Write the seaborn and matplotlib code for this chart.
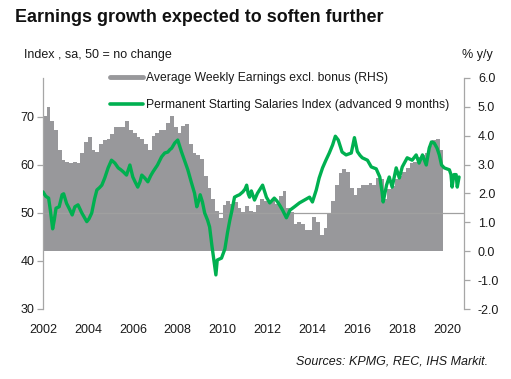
import matplotlib
matplotlib.use("Agg")
import matplotlib.pyplot as plt
import seaborn as sns
import numpy as np
import pandas as pd
from matplotlib.lines import Line2D
from matplotlib.ticker import FormatStrFormatter

sns.set_theme(style="white")
plt.rcParams['font.family'] = ['Liberation Sans', 'DejaVu Sans']
plt.rcParams['axes.unicode_minus'] = False

# ---- Data ----
# Average Weekly Earnings excl. bonus (RHS, % y/y), bi-monthly from Jan 2002
awe_start = 2002.0
awe_step = 1 / 6
awe_values = [
    4.7, 5.0, 4.5, 4.2, 3.5, 3.15,
    3.1, 3.05, 3.1, 3.05, 3.4, 3.8,
    3.95, 3.5, 3.45, 3.7, 3.85, 3.9,
    4.05, 4.3, 4.3, 4.3, 4.5, 4.2,
    4.1, 3.95, 3.9, 3.7, 3.5, 4.0,
    4.1, 4.2, 4.2, 4.45, 4.7, 4.3,
    4.1, 4.35, 4.4, 3.7, 3.4, 3.35,
    3.2, 2.6, 2.2, 1.8, 1.4, 1.15,
    1.6, 1.75, 1.65, 1.7, 1.5, 1.35,
    1.55, 1.4, 1.35, 1.6, 1.8, 1.75,
    1.7, 1.8, 1.65, 1.9, 2.1, 1.5,
    1.35, 0.95, 1.0, 0.95, 0.75, 0.75,
    1.2, 1.0, 0.55, 0.8, 1.3, 1.75,
    2.3, 2.7, 2.85, 2.75, 2.2, 1.95,
    2.2, 2.3, 2.3, 2.35, 2.3, 2.55,
    2.5, 1.8, 2.15, 2.25, 2.5, 2.6,
    2.75, 2.9, 3.05, 3.1, 3.25, 3.35,
    3.4, 3.65, 3.85, 3.9, 3.5,
]

# Permanent Starting Salaries Index (advanced 9 months), LHS
rec_years = [
    2002.00, 2002.12, 2002.25, 2002.33, 2002.43, 2002.50, 2002.58, 2002.72, 2002.85, 2002.92,
    2003.05, 2003.18, 2003.30, 2003.42, 2003.56, 2003.73, 2003.85, 2003.95,
    2004.05, 2004.17, 2004.30, 2004.40, 2004.52, 2004.62, 2004.75, 2004.90,
    2005.05, 2005.20, 2005.35, 2005.47, 2005.57, 2005.72, 2005.87,
    2006.00, 2006.10, 2006.22, 2006.32, 2006.40, 2006.53, 2006.67, 2006.80, 2006.90,
    2007.00, 2007.10, 2007.28, 2007.42, 2007.56, 2007.65, 2007.73, 2007.87,
    2008.00, 2008.08, 2008.17, 2008.30, 2008.45, 2008.60, 2008.75, 2008.85, 2008.93,
    2009.00, 2009.10, 2009.20, 2009.33, 2009.42, 2009.52, 2009.60, 2009.70, 2009.76, 2009.85, 2009.95,
    2010.10, 2010.22, 2010.32, 2010.40, 2010.53, 2010.65, 2010.75, 2010.90,
    2011.00, 2011.07, 2011.14, 2011.20, 2011.28, 2011.42, 2011.55, 2011.70, 2011.78, 2011.95,
    2012.10, 2012.30, 2012.42, 2012.53, 2012.67, 2012.84,
    2013.00, 2013.20, 2013.42, 2013.65, 2013.87,
    2014.00, 2014.17, 2014.30, 2014.45, 2014.60, 2014.75, 2014.90,
    2015.02, 2015.15, 2015.32, 2015.50, 2015.73, 2015.87,
    2016.00, 2016.12, 2016.22, 2016.45, 2016.62, 2016.84,
    2017.00, 2017.10, 2017.15, 2017.30, 2017.42, 2017.55, 2017.73, 2017.87,
    2018.00, 2018.22, 2018.44, 2018.62, 2018.75, 2018.90,
    2019.07, 2019.20, 2019.30, 2019.42, 2019.55, 2019.65, 2019.75, 2019.87,
    2020.10, 2020.17, 2020.22, 2020.30, 2020.40, 2020.45, 2020.53,
]
rec_values = [
    54.4, 53.5, 53.1, 50.5, 46.7, 48.5, 51.0, 51.3, 53.8, 54.0,
    52.0, 50.8, 49.6, 51.3, 51.7, 50.0, 49.0, 48.2,
    48.8, 50.0, 53.0, 54.8, 55.3, 55.8, 57.3, 59.4,
    61.0, 60.4, 59.4, 59.0, 58.6, 57.9, 60.0,
    57.5, 56.5, 55.4, 56.5, 57.9, 57.3, 56.5, 57.8, 58.6,
    59.3, 60.0, 61.7, 62.5, 62.7, 63.2, 63.5, 64.6,
    65.2, 64.0, 62.7, 61.0, 59.0, 56.5, 54.1, 51.3, 52.5,
    53.8, 52.3, 50.0, 48.5, 47.1, 43.3, 40.6, 37.1, 40.2, 40.4, 40.6,
    42.5, 46.0, 48.5, 50.2, 53.3, 53.6, 53.8, 54.4,
    55.0, 55.8, 54.0, 53.3, 54.6, 52.7, 54.1, 55.2, 55.8, 53.3,
    52.1, 53.1, 52.5, 51.7, 50.6, 49.0,
    50.6, 51.3, 52.1, 52.7, 53.3,
    52.3, 54.8, 57.3, 59.4, 61.0, 62.5, 64.2,
    66.0, 65.2, 62.7, 62.1, 62.5, 65.7,
    62.8, 62.0, 61.5, 61.0, 59.6, 59.2,
    57.5, 54.4, 52.3, 55.8, 57.5, 55.4, 59.4, 57.3,
    59.6, 61.5, 61.0, 62.1, 60.4, 62.1,
    60.0, 63.5, 64.8, 64.6, 63.5, 62.1, 60.0, 59.4,
    59.0, 58.0, 55.4, 58.0, 58.0, 55.4, 57.5,
]

year_ticks = [2002, 2004, 2006, 2008, 2010, 2012, 2014, 2016, 2018, 2020]
left_ticks = [30, 40, 50, 60, 70]
right_ticks = [-2, -1, 0, 1, 2, 3, 4, 5, 6]

title = "Earnings growth expected to soften further"
left_label = "Index , sa, 50 = no change"
right_label = "% y/y"
awe_label = "Average Weekly Earnings excl. bonus (RHS)"
rec_label = "Permanent Starting Salaries Index (advanced 9 months)"
source = "Sources: KPMG, REC, IHS Markit."

BAR_C = "#98989b"
LINE_C = "#00b050"
AX_C = "#a6a6a6"
TXT_C = "#1a1a1a"

# ---- Figure ----
W, H = 511, 379
fig = plt.figure(figsize=(W / 100, H / 100), dpi=100)
ax = fig.add_axes([43 / W, 1 - 309 / H, (464 - 43) / W, (309 - 78) / H])
ax2 = ax.twinx()

# bars: contiguous bi-monthly columns drawn as one filled step shape
edges = awe_start + np.arange(len(awe_values) + 1) * awe_step
ax2.stairs(awe_values, edges, baseline=0, fill=True, color=BAR_C,
           linewidth=0)

ax.set_zorder(ax2.get_zorder() + 1)
ax.patch.set_visible(False)

ax.axhline(50, color="#a0a0a0", lw=0.9, zorder=1)
rec_df = pd.DataFrame({"year": rec_years, "rec": rec_values})
sns.lineplot(data=rec_df, x="year", y="rec", ax=ax, color=LINE_C, lw=2.4,
             zorder=3, legend=False)

ax.set_xlim(2002, 2020.75)
ax.set_ylim(30, 30 + 231 / 4.8)
ax2.set_ylim(-2, 6)
ax.set_xticks(year_ticks)
ax.set_xticklabels([str(y) for y in year_ticks])
ax.set_yticks(left_ticks)
ax2.set_yticks(right_ticks)
ax2.yaxis.set_major_formatter(FormatStrFormatter("%.1f"))
ax.set_xlabel("")
ax.set_ylabel("")
ax2.set_ylabel("")

for a in (ax, ax2):
    for s in a.spines.values():
        s.set_visible(False)
ax.spines["left"].set_visible(True)
ax.spines["left"].set_color(AX_C)
ax.spines["left"].set_linewidth(0.9)
ax2.spines["right"].set_visible(True)
ax2.spines["right"].set_color(AX_C)
ax2.spines["right"].set_linewidth(0.9)

ax.tick_params(axis="y", left=True, length=4, width=0.9, color=AX_C,
               labelsize=9, pad=2, labelcolor=TXT_C)
ax.tick_params(axis="x", bottom=False, length=0, pad=11, labelsize=9,
               labelcolor=TXT_C)
ax2.tick_params(axis="y", right=True, length=4, width=0.9, color=AX_C,
                labelsize=9, pad=6, labelcolor=TXT_C)
ax.grid(False)
ax2.grid(False)

fig.text(15 / W, 1 - 17 / H, title, fontsize=12.9, fontweight="bold",
         va="center", ha="left", color="#111111")
fig.text(24 / W, 1 - 55 / H, left_label, fontsize=9, va="center",
         ha="left", color=TXT_C)
fig.text(493 / W, 1 - 55 / H, right_label, fontsize=9, va="center",
         ha="right", color=TXT_C)
fig.text(488 / W, 1 - 362 / H, source, fontsize=9, style="italic",
         va="center", ha="right", color=TXT_C)

handles = [Line2D([0], [0], color=BAR_C, lw=3.5),
           Line2D([0], [0], color=LINE_C, lw=2.6)]
fig.legend(handles, [awe_label, rec_label], loc="upper left",
           bbox_to_anchor=(110 / W, 1 - 72 / H), frameon=False,
           fontsize=8.7, handlelength=2.7, handletextpad=0.25,
           labelspacing=1.25, borderpad=0, borderaxespad=0,
           labelcolor=TXT_C)

fig.savefig("out.png", dpi=100)
